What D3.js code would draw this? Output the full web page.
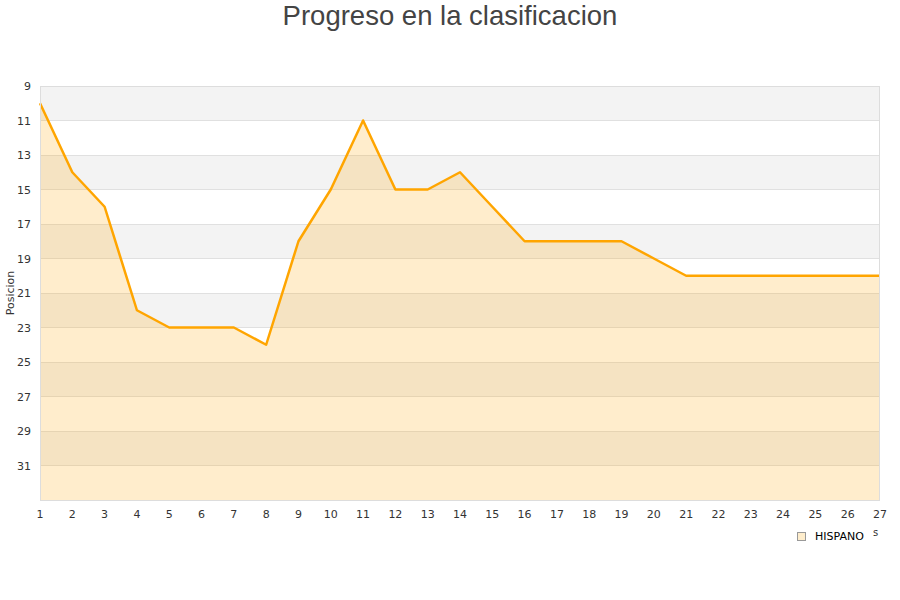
<!DOCTYPE html>
<html><head><meta charset="utf-8">
<script src="https://cdn.jsdelivr.net/npm/d3@7"></script>
<style>body{margin:0;background:#fff}svg{display:block}</style>
</head><body>
<svg id="c" width="900" height="600"></svg>
<script>
const jornadas = [1,2,3,4,5,6,7,8,9,10,11,12,13,14,15,16,17,18,19,20,21,22,23,24,25,26,27];
const posiciones = [10,14,16,22,23,23,23,24,18,15,11,15,15,14,16,18,18,18,18,19,20,20,20,20,20,20,20];
const yTicks = [9,11,13,15,17,19,21,23,25,27,29,31];
const seriesName = "HISPANO";
const title = "Progreso en la clasificacion";
const yTitle = "Posicion";

const svg = d3.select("#c");
const L = 40, R = 880, T = 86, B = 500;
const x = d3.scaleLinear().domain([1,27]).range([L,R]);
const y = d3.scaleLinear().domain([9,33]).range([T,B]);

// bands
const bands = [9,11,13,15,17,19,21,23,25,27,29,31];
svg.selectAll("rect.band").data(bands).enter().append("rect")
  .attr("x", L).attr("width", R-L)
  .attr("y", d=>y(d)).attr("height", d=>y(d+2)-y(d))
  .attr("fill", (d,i)=> i%2===0 ? "#f3f3f3" : "#ffffff");
// grid
svg.selectAll("line.grid").data(yTicks.slice(1)).enter().append("line")
  .attr("x1", L).attr("x2", R).attr("y1", d=>y(d)).attr("y2", d=>y(d))
  .attr("stroke", "#e0e0e0").attr("stroke-width",1).attr("shape-rendering","crispEdges");

// area
const area = d3.area().x((d,i)=>x(jornadas[i])).y0(B).y1(d=>y(d));
svg.append("path").datum(posiciones).attr("d", area).attr("fill","rgba(255,165,0,0.2)");
const line = d3.line().x((d,i)=>x(jornadas[i])).y(d=>y(d));
svg.append("path").datum(posiciones).attr("d", line).attr("fill","none")
  .attr("stroke","#ffa500").attr("stroke-width",2.5).attr("stroke-linejoin","round");

// border
svg.append("rect").attr("x",L+0.5).attr("y",T+0.5).attr("width",R-L-1).attr("height",B-T)
  .attr("fill","none").attr("stroke","#dddddd").attr("shape-rendering","crispEdges");

// y axis labels
svg.selectAll("text.yt").data(yTicks).enter().append("text")
  .attr("x", 31).attr("y", d=>y(d)+4).attr("text-anchor","end")
  .attr("font-family","DejaVu Sans").attr("font-size",11).attr("fill","#333")
  .text(d=>d);
// x axis labels
svg.selectAll("text.xt").data(jornadas).enter().append("text")
  .attr("x", d=>x(d)).attr("y", 518).attr("text-anchor","middle")
  .attr("font-family","DejaVu Sans").attr("font-size",11).attr("fill","#333")
  .text(d=>d);

// y title
svg.append("text").attr("transform","translate(14,293) rotate(-90)")
  .attr("text-anchor","middle").attr("font-family","DejaVu Sans").attr("font-size",11).attr("fill","#333")
  .text(yTitle);

// title
svg.append("text").attr("x",450).attr("y",25).attr("text-anchor","middle")
  .attr("font-family","Liberation Sans").attr("font-size",27.5).attr("fill","#444")
  .text(title);

// legend
svg.append("rect").attr("x",797.5).attr("y",532.5).attr("width",8).attr("height",8)
  .attr("fill","#feedcc").attr("stroke","#999");
svg.append("text").attr("x",815).attr("y",540).attr("font-family","DejaVu Sans").attr("font-size",11).attr("fill","#000")
  .text(seriesName);
svg.append("text").attr("x",873).attr("y",536).attr("font-family","DejaVu Sans").attr("font-size",10).attr("fill","#333").text("s");
</script>
</body></html>
